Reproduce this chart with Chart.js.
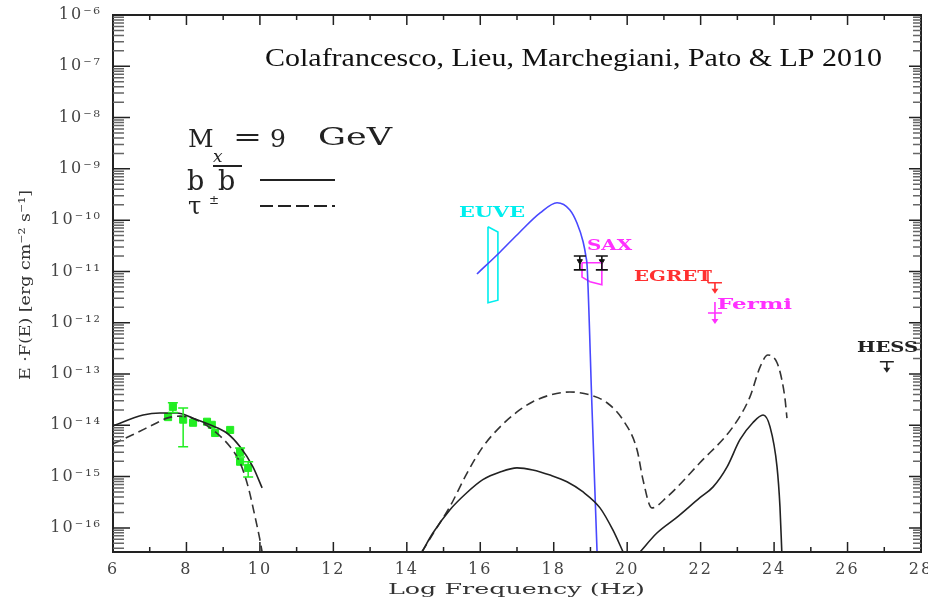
<!DOCTYPE html>
<html>
<head>
<meta charset="utf-8">
<script src="https://cdn.jsdelivr.net/npm/chart.js@4.4.1/dist/chart.umd.min.js"></script>
<style>
  html, body { margin: 0; padding: 0; background: #fff; }
</style>
</head>
<body>
<canvas id="sed" width="928" height="605"></canvas>
<script>
// axes: log10(nu / Hz) and log10(E F(E) / erg cm^-2 s^-1)
const xMin = 6, xMax = 28;
const yMin = -16.47, yMax = -6;
const xTicks = [6, 8, 10, 12, 14, 16, 18, 20, 22, 24, 26, 28];
const yTicks = [-16, -15, -14, -13, -12, -11, -10, -9, -8, -7, -6];

// b bbar model (solid)
const bbSyncX = [6.0, 6.82, 7.28, 7.74, 8.18, 8.64, 9.10, 9.46, 9.81, 10.06];
const bbSyncY = [-14.01, -13.80, -13.76, -13.76, -13.86, -13.99, -14.15, -14.42, -14.81, -15.22];
const bbIcX = [14.41, 14.71, 15.17, 15.64, 16.07, 16.54, 17.00, 17.43, 17.90, 18.36, 18.80, 19.26, 19.61, 19.89];
const bbIcY = [-16.47, -16.10, -15.65, -15.31, -15.06, -14.91, -14.83, -14.87, -14.97, -15.10, -15.30, -15.61, -16.04, -16.47];
const bbGamX = [20.35, 20.81, 21.36, 21.98, 22.34, 22.72, 23.07, 23.42, 23.70, 23.89, 24.08, 24.16, 24.21];
const bbGamY = [-16.47, -16.10, -15.79, -15.41, -15.20, -14.81, -14.28, -13.95, -13.80, -14.03, -14.81, -15.59, -16.47];

// tau+- model (dashed)
const tauSyncX = [6.0, 6.52, 7.2, 7.47, 7.82, 8.29, 8.72, 9.19, 9.46, 9.68, 9.87, 10.0, 10.06];
const tauSyncY = [-14.36, -14.19, -13.95, -13.86, -13.82, -13.90, -14.09, -14.42, -14.73, -15.20, -15.79, -16.23, -16.47];
const tauHighX = [14.41, 14.77, 15.17, 15.64, 16.07, 16.54, 17.00, 17.43, 17.90, 18.44, 18.99, 19.45, 19.89, 20.27, 20.43, 20.67, 21.08, 21.98, 22.88, 23.34, 23.62, 23.83, 24.08, 24.21, 24.30, 24.35];
const tauHighY = [-16.47, -16.05, -15.59, -14.93, -14.42, -14.03, -13.74, -13.54, -13.41, -13.35, -13.41, -13.56, -13.90, -14.48, -15.06, -15.61, -15.40, -14.73, -14.03, -13.45, -12.86, -12.63, -12.78, -13.11, -13.50, -13.86];

// thermal component (blue)
const blueX = [15.91, 16.54, 17.08, 17.63, 18.09, 18.44, 18.63, 18.80, 18.88, 18.91, 19.04, 19.18];
const blueY = [-11.05, -10.62, -10.23, -9.86, -9.66, -9.80, -10.05, -10.42, -10.72, -10.90, -13.62, -16.47];

// radio data (green)
const radioX = [7.50, 7.63, 7.91, 8.18, 8.56, 8.69, 8.78, 9.19, 9.46, 9.46, 9.68];
const radioY = [-13.84, -13.64, -13.89, -13.95, -13.93, -13.99, -14.15, -14.09, -14.52, -14.71, -14.83];
const radioLo = [null, -13.75, -14.42, null, null, null, null, null, -14.62, null, -15.01];
const radioHi = [null, -13.56, -13.66, null, null, null, null, null, -14.44, null, -14.71];

// EUVE and SAX bands (outlines)
const euveX = [16.21, 16.48, 16.48, 16.21, 16.21];
const euveY = [-10.13, -10.23, -11.56, -11.61, -10.13];
const saxBoxX = [18.77, 19.31, 19.31, 18.99, 18.77, 18.77];
const saxBoxY = [-10.83, -10.83, -11.26, -11.20, -11.11, -10.83];

// SAX points (black)
const saxX = [18.71, 19.31];
const saxY = [-10.80, -10.80];
const saxLo = [-10.97, -10.97];
const saxHi = [-10.70, -10.70];

// upper limits
const ulNames = ['EGRET', 'Fermi', 'HESS'];
const ulX = [22.39, 22.39, 27.07];
const ulY = [-11.22, -11.81, -12.76];
const ulColors = ['#ff3030', '#ff30ff', '#222222'];

const sup = { '-': '\u207b', '0': '\u2070', '1': '\u00b9', '2': '\u00b2', '3': '\u00b3', '4': '\u2074', '5': '\u2075', '6': '\u2076', '7': '\u2077', '8': '\u2078', '9': '\u2079' };
const powLabel = v => '10' + String(v).split('').map(c => sup[c]).join('');

const pts = (xs, ys) => xs.map((x, i) => ({ x: x, y: ys[i] }));

function curve(xs, ys, color, dash) {
    return {
        data: pts(xs, ys),
        showLine: true,
        borderColor: color,
        borderWidth: 1.6,
        borderDash: dash || [],
        pointRadius: 0,
        fill: false,
        cubicInterpolationMode: 'monotone'
    };
}

function outline(xs, ys, color) {
    return { data: pts(xs, ys), showLine: true, borderColor: color, borderWidth: 1.6, pointRadius: 0, fill: false, tension: 0 };
}

function fitText(ctx, text, x, y, width, font, color) {
    ctx.save();
    ctx.font = font;
    ctx.fillStyle = color;
    ctx.textBaseline = 'middle';
    ctx.textAlign = 'left';
    const w = ctx.measureText(text).width;
    ctx.translate(x, y);
    ctx.scale(width / w, 1);
    ctx.fillText(text, 0, 0);
    ctx.restore();
}

const decor = {
    id: 'decor',
    beforeDraw(chart) {
        chart.ctx.letterSpacing = '2px';
    },
    beforeDatasetsDraw(chart) {
        chart.ctx.letterSpacing = '0px';
    },
    afterDraw(chart) {
        const ctx = chart.ctx;
        const a = chart.chartArea;
        const xs = chart.scales.x, ys = chart.scales.y;
        ctx.save();

        // frame
        ctx.strokeStyle = '#222';
        ctx.lineWidth = 2;
        ctx.strokeRect(a.left, a.top, a.right - a.left, a.bottom - a.top);

        // x ticks, inward on top and bottom
        ctx.lineWidth = 1.5;
        for (let v = xMin; v <= xMax; v++) {
            const px = xs.getPixelForValue(v);
            const len = v % 2 === 0 ? 10 : 5;
            ctx.beginPath();
            ctx.moveTo(px, a.bottom); ctx.lineTo(px, a.bottom - len);
            ctx.moveTo(px, a.top); ctx.lineTo(px, a.top + len);
            ctx.stroke();
        }
        // y ticks (log minor ticks), inward on left and right
        for (let d = Math.floor(yMin); d <= yMax; d++) {
            for (let k = 1; k <= 9; k++) {
                const v = d + Math.log10(k);
                if (v < yMin || v > yMax) continue;
                const py = ys.getPixelForValue(v);
                const major = k === 1;
                ctx.strokeStyle = major ? '#222' : '#666';
                ctx.lineWidth = 1.5;
                ctx.beginPath();
                ctx.moveTo(a.left, py); ctx.lineTo(a.left + (major ? 17 : 11), py);
                ctx.moveTo(a.right, py); ctx.lineTo(a.right - (major ? 12 : 8), py);
                ctx.stroke();
            }
        }

        // radio error bars
        ctx.strokeStyle = '#22ee22';
        ctx.lineWidth = 1.5;
        radioX.forEach((x, i) => {
            if (radioLo[i] === null) return;
            const px = xs.getPixelForValue(x);
            const lo = ys.getPixelForValue(radioLo[i]);
            const hi = ys.getPixelForValue(radioHi[i]);
            ctx.beginPath();
            ctx.moveTo(px, lo); ctx.lineTo(px, hi);
            ctx.moveTo(px - 5, lo); ctx.lineTo(px + 5, lo);
            ctx.moveTo(px - 5, hi); ctx.lineTo(px + 5, hi);
            ctx.stroke();
        });

        // SAX error bars
        ctx.strokeStyle = '#111';
        ctx.lineWidth = 1.6;
        saxX.forEach((x, i) => {
            const px = xs.getPixelForValue(x);
            const lo = ys.getPixelForValue(saxLo[i]);
            const hi = ys.getPixelForValue(saxHi[i]);
            ctx.beginPath();
            ctx.moveTo(px, lo); ctx.lineTo(px, hi);
            ctx.moveTo(px - 6, lo); ctx.lineTo(px + 6, lo);
            ctx.moveTo(px - 6, hi); ctx.lineTo(px + 6, hi);
            ctx.stroke();
        });

        // upper limits
        ulX.forEach((x, i) => {
            const px = xs.getPixelForValue(x);
            const py = ys.getPixelForValue(ulY[i]);
            ctx.strokeStyle = ulColors[i];
            ctx.fillStyle = ulColors[i];
            ctx.lineWidth = 1.6;
            ctx.beginPath();
            ctx.moveTo(px - 7, py); ctx.lineTo(px + 7, py);
            ctx.moveTo(px, py); ctx.lineTo(px, py + 9);
            if (i === 0) { ctx.moveTo(px - 7, py); ctx.lineTo(px - 7, py - 12); }
            if (i === 1) { ctx.moveTo(px, py); ctx.lineTo(px, py - 11); }
            ctx.stroke();
            ctx.beginPath();
            ctx.moveTo(px - 3.5, py + 6); ctx.lineTo(px + 3.5, py + 6); ctx.lineTo(px, py + 11);
            ctx.closePath();
            ctx.fill();
        });

        // instrument labels
        const lab = 'bold 15px "DejaVu Serif"';
        fitText(ctx, 'EUVE', 459, 213, 66, lab, '#00eeee');
        fitText(ctx, 'SAX', 587, 246, 45, lab, '#ff30ff');
        fitText(ctx, ulNames[0], 634, 277, 78, lab, ulColors[0]);
        fitText(ctx, ulNames[1], 717, 305, 75, lab, ulColors[1]);
        fitText(ctx, ulNames[2], 857, 348, 61, lab, ulColors[2]);

        // reference line
        fitText(ctx, 'Colafrancesco, Lieu, Marchegiani, Pato & LP 2010', 265, 59, 617, '26px "Liberation Serif"', '#111');

        // model legend
        ctx.fillStyle = '#222';
        ctx.textBaseline = 'alphabetic';
        ctx.textAlign = 'left';
        ctx.font = '25px "DejaVu Serif"';
        ctx.fillText('M', 188, 147);
        fitText(ctx, '=', 233, 138, 29, '25px "DejaVu Serif"', '#222');
        ctx.fillStyle = '#222';
        ctx.font = '25px "DejaVu Serif"';
        ctx.fillText('9', 270, 147);
        ctx.font = 'italic 17px "DejaVu Serif"';
        ctx.fillText('x', 213, 162);
        fitText(ctx, 'GeV', 318, 138, 74, '25px "DejaVu Serif"', '#222');
        ctx.fillStyle = '#222';
        ctx.font = '27px "DejaVu Serif"';
        ctx.fillText('b', 187, 190);
        ctx.fillText('b', 218, 190);
        ctx.font = '24px "DejaVu Serif"';
        ctx.fillText('\u03c4', 188, 214);
        ctx.font = '12px "DejaVu Serif"';
        ctx.fillText('\u00b1', 209, 204);
        ctx.strokeStyle = '#222';
        ctx.lineWidth = 2;
        ctx.beginPath();
        ctx.moveTo(213, 166); ctx.lineTo(242, 166);
        ctx.moveTo(260, 180); ctx.lineTo(335, 180);
        ctx.stroke();
        ctx.setLineDash([13, 5]);
        ctx.beginPath();
        ctx.moveTo(260, 206); ctx.lineTo(335, 206);
        ctx.stroke();
        ctx.setLineDash([]);

        // axis titles
        fitText(ctx, 'Log Frequency (Hz)', 388, 590, 257, '15px "DejaVu Serif"', '#333');
        ctx.save();
        ctx.translate(26, 380);
        ctx.rotate(-Math.PI / 2);
        fitText(ctx, 'E \u00b7F(E) [erg cm\u207b\u00b2 s\u207b\u00b9]', 0, 0, 190, '15px "DejaVu Serif"', '#333');
        ctx.restore();

        ctx.restore();
    }
};

new Chart(document.getElementById('sed'), {
    type: 'scatter',
    data: {
        datasets: [
            curve(bbSyncX, bbSyncY, '#222'),
            curve(bbIcX, bbIcY, '#222'),
            curve(bbGamX, bbGamY, '#222'),
            curve(tauSyncX, tauSyncY, '#333', [9, 5]),
            curve(tauHighX, tauHighY, '#333', [9, 5]),
            curve(blueX, blueY, '#4848ff'),
            outline(euveX, euveY, '#00eeee'),
            outline(saxBoxX, saxBoxY, '#ff30ff'),
            {
                data: pts(radioX, radioY),
                pointStyle: 'rect',
                pointRadius: 5,
                backgroundColor: '#22ee22',
                borderColor: '#22ee22',
                showLine: false
            },
            {
                data: pts(saxX, saxY),
                pointStyle: 'triangle',
                rotation: 180,
                pointRadius: 3,
                backgroundColor: '#111',
                borderColor: '#111',
                showLine: false
            }
        ]
    },
    options: {
        responsive: false,
        devicePixelRatio: 1,
        animation: false,
        events: [],
        layout: { padding: { top: 15, right: 7, left: 0, bottom: 0 } },
        plugins: { legend: { display: false }, tooltip: { enabled: false } },
        scales: {
            x: {
                type: 'linear',
                min: xMin,
                max: xMax,
                afterBuildTicks: s => { s.ticks = xTicks.map(v => ({ value: v })); },
                afterFit: s => { s.height = 53; s.paddingLeft = 0; s.paddingRight = 0; },
                grid: { display: false, drawTicks: false },
                border: { display: false },
                ticks: {
                    padding: 8,
                    color: '#444',
                    font: { family: 'DejaVu Serif', size: 16 },
                    maxRotation: 0,
                    autoSkip: false,
                    callback: v => String(v)
                }
            },
            y: {
                type: 'linear',
                min: yMin,
                max: yMax,
                afterBuildTicks: s => { s.ticks = yTicks.map(v => ({ value: v })); },
                afterFit: s => { s.width = 113; s.paddingTop = 0; s.paddingBottom = 0; },
                grid: { display: false, drawTicks: false },
                border: { display: false },
                ticks: {
                    padding: 11,
                    color: '#444',
                    font: { family: 'DejaVu Serif', size: 16 },
                    autoSkip: false,
                    callback: v => powLabel(v)
                }
            }
        }
    },
    plugins: [decor]
});
</script>
</body>
</html>
